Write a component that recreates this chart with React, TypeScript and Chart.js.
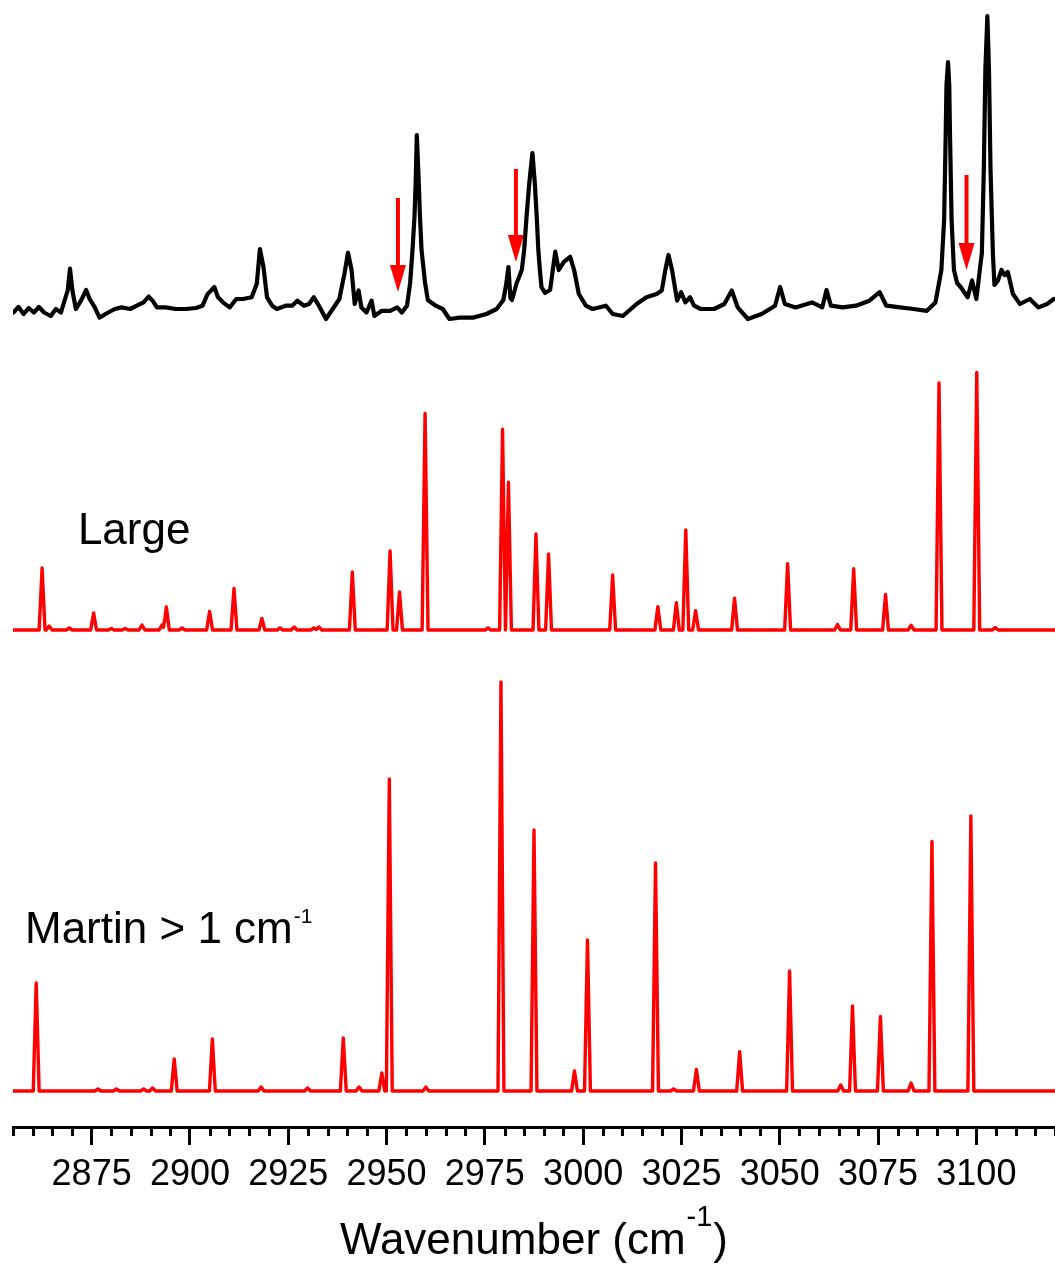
import React, { useEffect, useRef } from 'react';
import { Chart, registerables } from 'chart.js';

Chart.register(...registerables);

// ---------- axis ----------
const xMin = 2855;
const xMax = 3120;
const majorTicks = [2875, 2900, 2925, 2950, 2975, 3000, 3025, 3050, 3075, 3100];
const minorStep = 5;

// ---------- experimental spectrum (black) ----------
const expWavenumber = [
  2855.1, 2856.4, 2857.7, 2859.0, 2860.3, 2861.6, 2862.9, 2864.6, 2865.9, 2867.2,
  2868.0, 2868.9, 2869.5, 2870.1, 2871.0, 2872.3, 2873.6, 2874.5, 2875.8, 2877.0,
  2879.2, 2880.9, 2882.6, 2884.8, 2886.5, 2888.2, 2889.5, 2890.5, 2891.6, 2893.8,
  2896.4, 2899.0, 2901.5, 2903.2, 2904.5, 2905.4, 2906.2, 2907.1, 2908.4, 2910.1,
  2911.8, 2913.5, 2915.7, 2917.0, 2917.8, 2918.7, 2919.6, 2920.9, 2922.1, 2924.3,
  2926.0, 2927.3, 2929.0, 2930.3, 2931.5, 2932.8, 2934.6, 2936.3, 2938.0, 2939.3,
  2940.2, 2941.1, 2941.9, 2942.9, 2943.6, 2944.9, 2946.2, 2946.9, 2948.8, 2950.9,
  2952.7, 2953.9, 2955.2, 2956.0, 2956.6, 2957.1, 2957.4, 2957.7, 2958.2, 2958.5,
  2958.9, 2959.8, 2960.5, 2962.5, 2964.3, 2966.0, 2968.6, 2972.0, 2975.4, 2978.0,
  2979.7, 2980.4, 2981.0, 2981.5, 2981.9, 2983.1, 2984.4, 2985.0, 2985.6, 2986.3,
  2987.1, 2987.7, 2988.2, 2988.6, 2989.0, 2989.4, 2990.3, 2991.6, 2992.9, 2993.8,
  2995.1, 2996.7, 2997.7, 2998.9, 3000.7, 3002.4, 3005.8, 3007.5, 3010.1, 3013.6,
  3016.1, 3018.7, 3020.0, 3020.9, 3021.7, 3022.6, 3023.9, 3024.9, 3026.0, 3027.2,
  3028.2, 3029.9, 3033.3, 3035.9, 3037.8, 3039.3, 3041.9, 3045.4, 3048.8, 3050.1,
  3051.3, 3054.0, 3058.2, 3060.8, 3061.9, 3063.0, 3066.0, 3069.4, 3072.8, 3075.4,
  3077.1, 3080.6, 3084.0, 3087.4, 3089.6, 3091.1, 3091.8, 3092.2, 3092.4, 3092.8,
  3093.1, 3093.3, 3093.7, 3094.3, 3095.1, 3096.0, 3097.8, 3098.9, 3100.0, 3101.4,
  3101.9, 3102.3, 3102.8, 3103.2, 3103.6, 3104.2, 3104.6, 3105.5, 3106.4, 3107.2,
  3108.0, 3109.3, 3111.1, 3113.6, 3115.8, 3118.0, 3119.7,
];
const expIntensity = [
  7.5, 13, 6, 12, 7.5, 13, 7.5, 4, 11, 7.5,
  18, 29.5, 51.4, 29.5, 11, 19.3, 30, 21, 12.6, 2.4,
  7.5, 11, 12.6, 11, 14.3, 17.6, 23.4, 19.3, 12.6, 12.6,
  11, 11, 12, 14.3, 26, 29.5, 33, 23, 17.6, 12.6,
  21, 21, 22.7, 36.2, 71, 53, 22.7, 14.3, 11, 14.3,
  14.3, 19.3, 14.3, 16, 22.7, 14.3, 1, 11, 21, 46.4,
  67.3, 50, 16, 29.5, 12.6, 7.5, 19.3, 4, 9.2, 9.2,
  12.6, 7.5, 14.3, 37, 70, 103, 137, 185, 137, 103,
  70, 37, 20, 14.3, 11, 1, 2.4, 2.4, 6, 11,
  20, 35, 53, 22, 20, 37, 50, 70, 103, 137,
  167, 137, 103, 70, 50, 33, 27, 30, 68.3, 50,
  58.2, 63.2, 50, 26, 14.3, 11, 14.3, 6, 4, 16,
  22.7, 26, 29.5, 50, 65, 50, 19.3, 27.8, 17.6, 22.7,
  14.3, 11, 11, 16, 29.5, 12.6, 1, 6, 14.3, 33,
  16, 12.6, 17.6, 12.6, 30, 14.3, 12.6, 14.3, 19.3, 27.8,
  14.3, 12.6, 11, 9.2, 17.6, 50, 100, 185, 235, 258,
  235, 185, 100, 50, 37, 33, 22.7, 39.6, 21, 67,
  151, 252, 304, 252, 151, 67, 35, 39.6, 50, 44.7,
  48, 26, 16, 21, 12.6, 16, 21,
];

// ---------- computed spectrum "Large" (red, middle) ----------
const largePeakPos = [
  2862.4, 2864.2, 2869.3, 2875.5, 2880.0, 2883.5, 2887.8, 2892.9, 2894.0, 2898.0,
  2905.0, 2911.2, 2918.3, 2922.9, 2926.5, 2931.5, 2932.8, 2941.3, 2950.9, 2953.3,
  2959.8, 2975.8, 2979.5, 2981.0, 2988.0, 2991.2, 3007.5, 3019.0, 3023.7, 3026.1,
  3028.6, 3038.5, 3052.0, 3064.7, 3068.8, 3076.9, 3083.4, 3090.5, 3100.1, 3104.8,
];
const largePeakInt = [
  62, 4, 2, 17, 1.5, 1.5, 5, 5, 23, 2,
  18.6, 41.6, 11.6, 2, 3, 2, 3, 58, 79, 38,
  216.6, 2, 200.7, 147.7, 96, 76, 55, 23.4, 27.4, 100,
  19.3, 31.8, 66.3, 5.5, 61.2, 35.5, 4.8, 247, 257.5, 2.4,
];

// ---------- computed spectrum "Martin > 1 cm-1" (red, bottom) ----------
const martinPeakPos = [
  2860.9, 2876.6, 2881.3, 2888.2, 2890.5, 2896.0, 2905.7, 2918.1, 2929.9, 2939.0,
  2943.0, 2948.8, 2950.7, 2960.0, 2979.1, 2987.5, 2997.8, 3001.1, 3018.4, 3023.0,
  3028.8, 3039.8, 3052.5, 3065.5, 3068.5, 3075.6, 3083.4, 3088.7, 3098.6,
];
const martinPeakInt = [
  108, 2, 2, 2, 3, 32, 52, 4, 3, 53,
  4, 18, 312, 4, 409, 261, 20, 151, 228, 2,
  21.5, 39.4, 120, 6, 85, 74.6, 8, 249.6, 275,
];

// ---------- arrows on the experimental trace (exp intensity units) ----------
const arrowPos = [2952.9, 2982.9, 3097.5];
const arrowTopInt = [122, 151, 145];
const arrowTipInt = [28, 58, 50];

// ---------- stacking (layout) ----------
const yMax = 1127;
const expOffset = 807;
const largeOffset = 497;
const martinOffset = 36;
const stickHalfWidth = 0.75;

const FONT = "'Liberation Sans', Arial, Helvetica, sans-serif";

function stickLine(pos: number[], ints: number[], offset: number, w: number) {
  const xs = new Set<number>();
  xs.add(xMin);
  xs.add(xMax);
  pos.forEach((p) => {
    xs.add(+(p - w).toFixed(3));
    xs.add(p);
    xs.add(+(p + w).toFixed(3));
  });
  const sorted = Array.from(xs).sort((a, b) => a - b);
  return sorted.map((x) => {
    let s = 0;
    pos.forEach((p, i) => {
      const d = Math.abs(x - p);
      if (d < w) s += ints[i] * (1 - d / w);
    });
    return { x, y: offset + s };
  });
}

const overlayPlugin = {
  id: 'overlay',
  afterDraw(chart: any) {
    const { ctx, chartArea } = chart;
    const xs = chart.scales.x;
    const ys = chart.scales.y;
    ctx.save();

    // minor ticks
    ctx.strokeStyle = '#000';
    ctx.lineWidth = 3;
    for (let v = xMin; v <= xMax; v += minorStep) {
      if (majorTicks.includes(v)) continue;
      const px = Math.round(xs.getPixelForValue(v)) + 0.5;
      ctx.beginPath();
      ctx.moveTo(px, chartArea.bottom);
      ctx.lineTo(px, chartArea.bottom + 9);
      ctx.stroke();
    }

    // arrows
    ctx.strokeStyle = '#ff0000';
    ctx.fillStyle = '#ff0000';
    arrowPos.forEach((w, i) => {
      const px = xs.getPixelForValue(w);
      const top = ys.getPixelForValue(expOffset + arrowTopInt[i]);
      const tip = ys.getPixelForValue(expOffset + arrowTipInt[i]);
      const headLen = 27;
      const headHalf = 8;
      ctx.lineWidth = 4;
      ctx.beginPath();
      ctx.moveTo(px, top);
      ctx.lineTo(px, tip - headLen + 2);
      ctx.stroke();
      ctx.beginPath();
      ctx.moveTo(px - headHalf, tip - headLen);
      ctx.lineTo(px + headHalf, tip - headLen);
      ctx.lineTo(px, tip);
      ctx.closePath();
      ctx.fill();
    });

    // annotations
    ctx.fillStyle = '#000';
    ctx.textBaseline = 'alphabetic';
    ctx.textAlign = 'left';
    ctx.font = `44px ${FONT}`;
    ctx.fillText('Large', xs.getPixelForValue(2871.5), ys.getPixelForValue(583));

    const mx = xs.getPixelForValue(2858.05);
    const my = ys.getPixelForValue(184);
    ctx.font = `44px ${FONT}`;
    const mainTxt = 'Martin > 1 cm';
    ctx.fillText(mainTxt, mx, my);
    const mw = ctx.measureText(mainTxt).width;
    ctx.font = `21px ${FONT}`;
    ctx.fillText('-1', mx + mw + 1, my - 20);

    // axis title
    const t1 = 'Wavenumber (cm';
    const t2 = '-1';
    const t3 = ')';
    ctx.font = `44px ${FONT}`;
    const w1 = ctx.measureText(t1).width;
    const w3 = ctx.measureText(t3).width;
    ctx.font = `29px ${FONT}`;
    const w2 = ctx.measureText(t2).width;
    const total = w1 + w2 + w3 + 2;
    const cx = (chartArea.left + chartArea.right) / 2;
    const tx = cx - total / 2;
    const ty = 1254;
    ctx.font = `44px ${FONT}`;
    ctx.fillText(t1, tx, ty);
    ctx.font = `29px ${FONT}`;
    ctx.fillText(t2, tx + w1 + 1, ty - 28);
    ctx.font = `44px ${FONT}`;
    ctx.fillText(t3, tx + w1 + w2 + 2, ty);

    ctx.restore();
  },
};

export default function App() {
  const canvasRef = useRef<HTMLCanvasElement | null>(null);

  useEffect(() => {
    const canvas = canvasRef.current;
    if (!canvas) return;

    const expData = expWavenumber.map((w, i) => ({ x: w, y: expOffset + expIntensity[i] }));
    const largeData = stickLine(largePeakPos, largePeakInt, largeOffset, stickHalfWidth);
    const martinData = stickLine(martinPeakPos, martinPeakInt, martinOffset, stickHalfWidth);

    const chart = new Chart(canvas, {
      type: 'line',
      data: {
        datasets: [
          {
            label: 'Experiment',
            data: expData,
            borderColor: '#000000',
            borderWidth: 4.2,
            pointRadius: 0,
            tension: 0,
            borderJoinStyle: 'round',
            borderCapStyle: 'round',
          },
          {
            label: 'Large',
            data: largeData,
            borderColor: '#ff0000',
            borderWidth: 3.4,
            pointRadius: 0,
            tension: 0,
            borderJoinStyle: 'round',
          },
          {
            label: 'Martin > 1 cm-1',
            data: martinData,
            borderColor: '#ff0000',
            borderWidth: 3.4,
            pointRadius: 0,
            tension: 0,
            borderJoinStyle: 'round',
          },
        ],
      },
      options: {
        responsive: false,
        animation: false,
        parsing: false as any,
        normalized: true,
        layout: { padding: { left: 13, right: 0, top: 0, bottom: 0 } },
        plugins: {
          legend: { display: false },
          tooltip: { enabled: false },
          title: { display: false },
        },
        scales: {
          x: {
            type: 'linear',
            position: 'bottom',
            min: xMin,
            max: xMax,
            afterFit: (scale: any) => {
              scale.height = 145;
            },
            afterBuildTicks: (scale: any) => {
              scale.ticks = majorTicks.map((v) => ({ value: v }));
            },
            border: { display: true, color: '#000', width: 3 },
            grid: {
              display: true,
              drawOnChartArea: false,
              drawTicks: true,
              tickLength: 18,
              tickWidth: 3,
              tickColor: '#000',
            },
            ticks: {
              color: '#000',
              font: { size: 36, family: FONT },
              padding: 8,
              maxRotation: 0,
              autoSkip: false,
              callback: (v: any) => String(v),
            },
          },
          y: {
            display: false,
            min: 0,
            max: yMax,
          },
        },
      },
      plugins: [overlayPlugin],
    });

    return () => chart.destroy();
  }, []);

  return (
    <div style={{ position: 'absolute', left: 0, top: 0, width: 1055, height: 1272, background: '#fff' }}>
      <canvas ref={canvasRef} width={1055} height={1272} style={{ display: 'block', width: 1055, height: 1272 }} />
    </div>
  );
}
